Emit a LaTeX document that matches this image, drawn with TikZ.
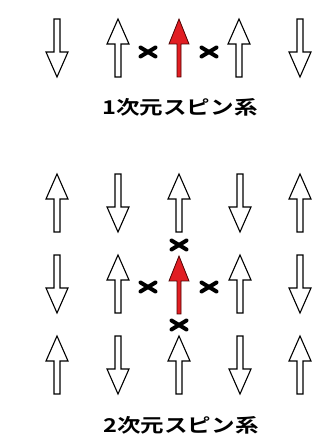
\documentclass[tikz,border=0pt]{standalone}
\usepackage{fontspec}
\newfontfamily\cjk{Noto Sans CJK JP Bold}
\definecolor{spinred}{RGB}{225,30,35}
\tikzset{
  spinline/.style={draw=black, line width=1.1pt, fill=white, line join=miter},
  redline/.style={draw=black!70!red, line width=0.8pt, fill=spinred, line join=miter},
  crossline/.style={line width=4pt, line cap=round, black},
  label/.style={font=\cjk\fontsize{19}{22}\selectfont, inner sep=0pt},
  pics/spinup/.style={code={
    \draw[spinline] (-3,-29) -- (-3,4) -- (-11,4) -- (0,29) -- (11,4) -- (3,4) -- (3,-29) -- cycle;
  }},
  pics/spindown/.style={code={
    \draw[spinline] (-3,29) -- (-3,-4) -- (-11,-4) -- (0,-29) -- (11,-4) -- (3,-4) -- (3,29) -- cycle;
  }},
  pics/spinred/.style={code={
    \draw[redline] (-2,-29) -- (-2,4) -- (-10,4) -- (0,29) -- (10,4) -- (2,4) -- (2,-29) -- cycle;
  }},
  pics/cross/.style={code={
    \draw[crossline] (-7.5,-4.5) -- (7.5,4.5);
    \draw[crossline] (-7.5,4.5) -- (7.5,-4.5);
  }}
}
\begin{document}
\begin{tikzpicture}[x=1pt,y=1pt]
\useasboundingbox[fill=white] (0,0) rectangle (327,441);
% 1D chain
\pic at (57,393) {spindown};
\pic at (118,393) {spinup};
\pic at (179,393) {spinred};
\pic at (239,393) {spinup};
\pic at (300,393) {spindown};
\pic at (148,389) {cross};
\pic at (209,389) {cross};
\node[label] (l1) at (180,334) {\scalebox{1.24}[1]{1次元スピン系}};
% 2D lattice
\pic at (57,238) {spinup};
\pic at (118,238) {spindown};
\pic at (179,238) {spinup};
\pic at (240,238) {spindown};
\pic at (300,238) {spinup};
\pic at (57,157) {spindown};
\pic at (118,157) {spinup};
\pic at (179,156) {spinred};
\pic at (240,157) {spinup};
\pic at (300,157) {spindown};
\pic at (57,76) {spinup};
\pic at (118,76) {spindown};
\pic at (179,76) {spinup};
\pic at (240,76) {spindown};
\pic at (300,76) {spinup};
\pic at (179,196) {cross};
\pic at (179,116) {cross};
\pic at (148,154) {cross};
\pic at (209,154) {cross};
\node[label] (l2) at (181,16) {\scalebox{1.24}[1]{2次元スピン系}};
\end{tikzpicture}
\end{document}
